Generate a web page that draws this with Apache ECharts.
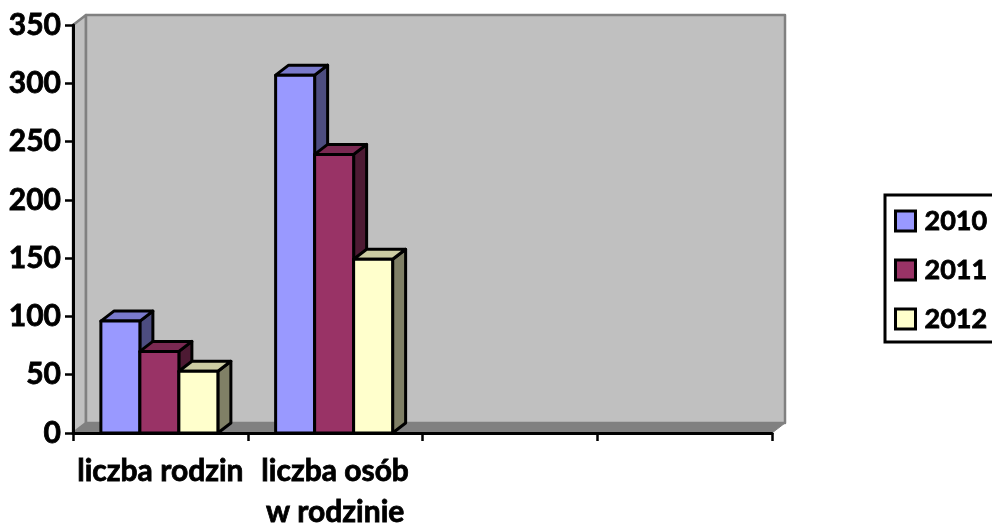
<!DOCTYPE html>
<html>
<head>
<meta charset="utf-8">
<style>html,body{margin:0;padding:0;background:#fff}#c{width:992px;height:524px}</style>
<script src="https://cdn.jsdelivr.net/npm/echarts@6/dist/echarts.min.js"></script>
</head>
<body>
<div id="c"></div>
<script>
var categories = ['liczba rodzin', 'liczba osób\nw rodzinie', '', ''];
var seriesNames = ['2010', '2011', '2012'];
var values2010 = [96, 307];
var values2011 = [70, 239];
var values2012 = [53, 149];
var frontColors = ['#9999ff', '#993366', '#ffffcc'];
var topColors = ['#7a7acc', '#7a2952', '#cccca3'];
var sideColors = ['#4d4d80', '#4d1a33', '#808066'];
var DX = 13, DY = -10, BAR = 39, FONT = 'Lato';

function poly(pts, fill, stroke, lw) {
  return { type: 'polygon', shape: { points: pts }, style: { fill: fill, stroke: stroke, lineWidth: lw, lineJoin: 'round' } };
}
function barRender(si) {
  return function (params, api) {
    var c = api.coord([api.value(0), api.value(1)]);
    var base = api.coord([api.value(0), 0]);
    var x0 = c[0] - 1 + (si - 1.5) * BAR, x1 = x0 + BAR, yt = c[1], yb = base[1];
    var s = '#000', w = 3;
    return { type: 'group', children: [
      poly([[x1, yt], [x1 + DX, yt + DY], [x1 + DX, yb + DY], [x1, yb]], sideColors[si], s, w),
      poly([[x0, yt], [x0 + DX, yt + DY], [x1 + DX, yt + DY], [x1, yt]], topColors[si], s, w),
      poly([[x0, yt], [x1, yt], [x1, yb], [x0, yb]], frontColors[si], s, w)
    ] };
  };
}
function wallRender(params, api) {
  var cs = params.coordSys;
  var l = cs.x, r = cs.x + cs.width, t = cs.y, b = cs.y + cs.height;
  var g = '#808080';
  return { type: 'group', children: [
    poly([[l, t], [l + DX, t + DY], [l + DX, b + DY], [l, b]], '#c0c0c0', g, 2.5),
    poly([[l + DX, t + DY], [r + DX, t + DY], [r + DX, b + DY], [l + DX, b + DY]], '#c0c0c0', g, 2.5),
    poly([[l, b], [l + DX, b + DY], [r + DX, b + DY], [r, b]], g, g, 1)
  ] };
}
var allValues = [values2010, values2011, values2012];
var series = [{
  type: 'custom', name: 'wall', z: -1, silent: true, renderItem: wallRender, data: [[0, 0]],
  clip: false
}];
seriesNames.forEach(function (n, si) {
  series.push({
    type: 'custom', name: n, z: 2 + si, renderItem: barRender(si), clip: false,
    encode: { x: 0, y: 1 },
    itemStyle: { color: frontColors[si], borderColor: '#000', borderWidth: 3 },
    data: allValues[si].map(function (v, i) { return [i, v]; })
  });
});
var heavy = { textBorderColor: '#000', textBorderWidth: 0.8 };
var chart = echarts.init(document.getElementById('c'), null, { renderer: 'canvas' });
chart.setOption({
  animation: false,
  backgroundColor: '#fff',
  grid: { left: 73, top: 25, width: 699, height: 408, outerBoundsMode: 'none' },
  xAxis: {
    type: 'category', data: categories, boundaryGap: true,
    axisLine: { show: true, lineStyle: { color: '#000', width: 3 } },
    axisTick: { show: true, alignWithLabel: false, length: 8, inside: false, lineStyle: { color: '#000', width: 2.5 } },
    axisLabel: Object.assign({ interval: 0, color: '#000', fontFamily: FONT, fontWeight: 'bold', fontSize: 30, lineHeight: 41, margin: 18 }, heavy),
    splitLine: { show: false }
  },
  yAxis: {
    type: 'value', min: 0, max: 350, interval: 50,
    axisLine: { show: true, lineStyle: { color: '#000', width: 3 } },
    axisTick: { show: true, length: 8, lineStyle: { color: '#000', width: 2.5 } },
    axisLabel: Object.assign({ color: '#000', fontFamily: FONT, fontWeight: 'bold', fontSize: 30, margin: 12 }, heavy),
    splitLine: { show: false }
  },
  legend: {
    orient: 'vertical', left: 885, top: 195, padding: [11, 30, 8, 9],
    data: seriesNames.map(function (n) { return { name: n, icon: 'rect' }; }),
    itemWidth: 20, itemHeight: 20, itemGap: 19, borderColor: '#000', borderWidth: 3,
    itemStyle: { borderColor: '#000', borderWidth: 3 },
    textStyle: Object.assign({ color: '#000', fontFamily: FONT, fontWeight: 'bold', fontSize: 27, padding: [0, 0, 0, 4], lineHeight: 30 }, heavy),
    selectedMode: false
  },
  series: series
});
</script>
</body>
</html>
